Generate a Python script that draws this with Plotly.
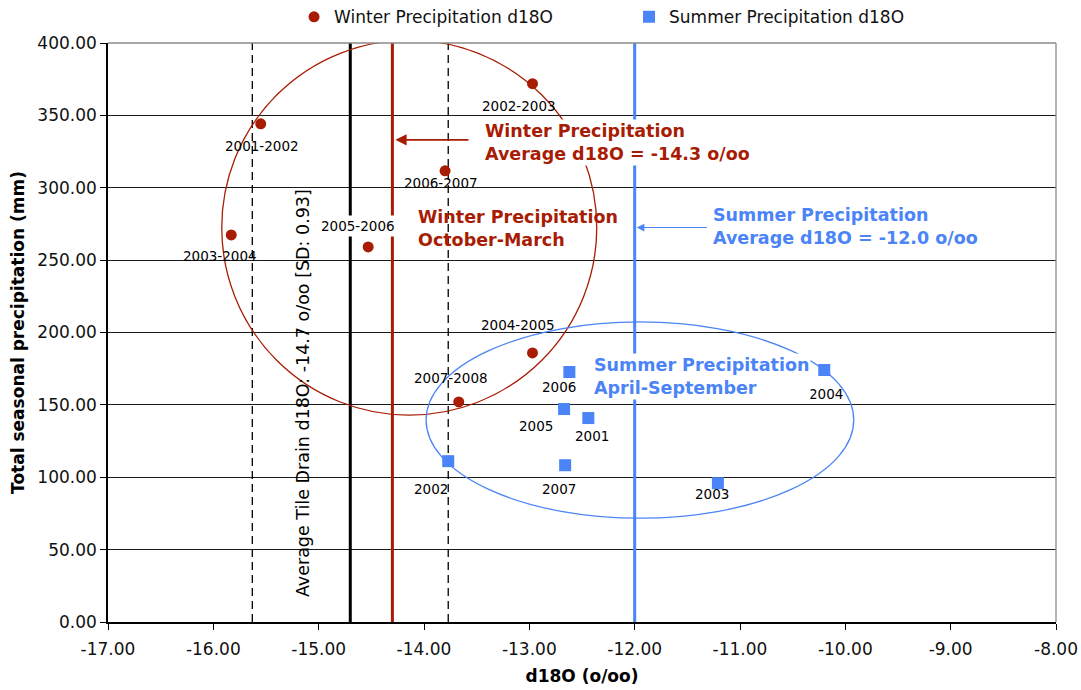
import plotly.graph_objects as go

# Seasonal precipitation: d18O (o/oo) against total precipitation (mm)
winter_years = ["2001-2002", "2002-2003", "2003-2004", "2004-2005",
                "2005-2006", "2006-2007", "2007-2008"]
winter_d18o = [-15.55, -12.97, -15.83, -12.97, -14.53, -13.80, -13.67]
winter_precip = [344.2, 371.9, 267.4, 185.9, 259.1, 311.7, 152.0]

summer_years = ["2001", "2002", "2003", "2004", "2005", "2006", "2007"]
summer_d18o = [-12.44, -13.77, -11.21, -10.20, -12.67, -12.62, -12.66]
summer_precip = [140.9, 111.1, 95.9, 174.1, 147.1, 172.7, 108.3]

# Reference averages
winter_avg = -14.3
summer_avg = -12.0
tile_drain_avg = -14.7
tile_drain_sd = 0.93

# Axis ticks
x_ticks = [-17, -16, -15, -14, -13, -12, -11, -10, -9, -8]
x_tick_labels = ["-17.00", "-16.00", "-15.00", "-14.00", "-13.00",
                 "-12.00", "-11.00", "-10.00", "-9.00", "-8.00"]
y_ticks = [0, 50, 100, 150, 200, 250, 300, 350, 400]
y_tick_labels = ["0.00", "50.00", "100.00", "150.00", "200.00",
                 "250.00", "300.00", "350.00", "400.00"]

# Outline ellipses around each season's cluster: (x0, y0, x1, y1)
winter_ellipse = (-15.92, 142.9, -12.36, 402.0)
summer_ellipse = (-13.98, 71.7, -9.92, 207.3)

# Label placement offsets (pixels) for the point labels
winter_label_shift = [(1, -22), (-13, -22), (-11, -21), (-14, 28),
                      (-10, 21), (-4, -12), (-8, 24)]
summer_label_shift = [(4, -18), (-17, -28), (-6, -11), (2, -24),
                      (-28, -17), (-10, -15), (-6, -24)]

RED = "#A81C04"
BLUE = "#4A84F7"
FONT = "DejaVu Sans"

fig = go.Figure()

fig.add_trace(go.Scatter(
    x=winter_d18o, y=winter_precip, mode="markers",
    name="Winter Precipitation d18O",
    marker=dict(symbol="circle", size=11, color=RED),
    cliponaxis=False,
))
fig.add_trace(go.Scatter(
    x=summer_d18o, y=summer_precip, mode="markers",
    name="Summer Precipitation d18O",
    marker=dict(symbol="square", size=12, color=BLUE),
    cliponaxis=False,
))

shapes = []
# Vertical reference lines
shapes.append(dict(type="line", xref="x", yref="y", x0=tile_drain_avg, x1=tile_drain_avg,
                   y0=0, y1=400, line=dict(color="black", width=3), layer="between"))
for v in (tile_drain_avg - tile_drain_sd, tile_drain_avg + tile_drain_sd):
    shapes.append(dict(type="line", xref="x", yref="y", x0=v, x1=v, y0=0, y1=400,
                       line=dict(color="black", width=1.3, dash="8px,5px"), layer="between"))
shapes.append(dict(type="line", xref="x", yref="y", x0=winter_avg, x1=winter_avg,
                   y0=0, y1=400, line=dict(color=RED, width=3), layer="between"))
shapes.append(dict(type="line", xref="x", yref="y", x0=summer_avg, x1=summer_avg,
                   y0=0, y1=400, line=dict(color=BLUE, width=3), layer="between"))
# Cluster ellipses
for (x0, y0, x1, y1), col in ((winter_ellipse, RED), (summer_ellipse, BLUE)):
    shapes.append(dict(type="circle", xref="x", yref="y", x0=x0, y0=y0, x1=x1, y1=y1,
                       line=dict(color=col, width=1.3), fillcolor="rgba(0,0,0,0)",
                       layer="between"))
# Grey frame on the top and right
shapes.append(dict(type="line", xref="paper", yref="paper", x0=0, x1=1, y0=1, y1=1,
                   line=dict(color="#8a8a8a", width=1.3), layer="above"))
shapes.append(dict(type="line", xref="paper", yref="paper", x0=1, x1=1, y0=0, y1=1,
                   line=dict(color="#8a8a8a", width=1.3), layer="above"))

annotations = []
for yr, xv, yv, (dx, dy) in zip(winter_years, winter_d18o, winter_precip, winter_label_shift):
    annotations.append(dict(
        x=xv, y=yv, xref="x", yref="y", text=yr, showarrow=False,
        xshift=dx, yshift=dy, font=dict(family=FONT, size=13.5, color="black"),
        bgcolor="white" if yr == "2005-2006" else "rgba(0,0,0,0)", borderpad=2,
    ))
for yr, xv, yv, (dx, dy) in zip(summer_years, summer_d18o, summer_precip, summer_label_shift):
    annotations.append(dict(
        x=xv, y=yv, xref="x", yref="y", text=yr, showarrow=False,
        xshift=dx, yshift=dy, font=dict(family=FONT, size=13.5, color="black"),
    ))

bold_red = dict(family=FONT, size=17.5, color=RED, weight="bold")
bold_blue = dict(family=FONT, size=17.5, color=BLUE, weight="bold")

# Winter average callout
annotations.append(dict(
    x=-13.44, y=331.1, xref="x", yref="y", xanchor="left", yanchor="middle",
    text="Winter Precipitation<br>Average d18O = %.1f o/oo" % winter_avg,
    align="left", showarrow=False, font=bold_red, bgcolor="white", borderpad=1,
))
annotations.append(dict(
    x=winter_avg, y=333.1, xref="x", yref="y", ax=-13.563, ay=333.1,
    axref="x", ayref="y", text="", showarrow=True, arrowhead=2, arrowsize=1.4,
    arrowwidth=1.6, arrowcolor=RED, standoff=3,
))
annotations.append(dict(
    x=-14.076, y=271.9, xref="x", yref="y", xanchor="left", yanchor="middle",
    text="Winter Precipitation<br>October-March", align="left",
    showarrow=False, font=bold_red,
))
# Summer average callout
annotations.append(dict(
    x=-11.275, y=273.0, xref="x", yref="y", xanchor="left", yanchor="middle",
    text="Summer Precipitation<br>Average d18O = %.1f o/oo" % summer_avg,
    align="left", showarrow=False, font=bold_blue,
))
annotations.append(dict(
    x=summer_avg, y=272.5, xref="x", yref="y", ax=-11.30, ay=272.5,
    axref="x", ayref="y", text="", showarrow=True, arrowhead=2, arrowsize=1.4,
    arrowwidth=1.1, arrowcolor=BLUE, standoff=2,
))
annotations.append(dict(
    x=-12.405, y=169.9, xref="x", yref="y", xanchor="left", yanchor="middle",
    text="Summer Precipitation<br>April-September", align="left",
    showarrow=False, font=bold_blue, bgcolor="white", borderpad=1,
))
# Tile drain label
annotations.append(dict(
    x=-15.149, y=158.1, xref="x", yref="y", textangle=-90,
    text="Average Tile Drain d18O: %.1f o/oo [SD: %.2f]" % (tile_drain_avg, tile_drain_sd),
    showarrow=False, font=dict(family=FONT, size=17.5, color="black"),
))

fig.update_layout(
    width=1081, height=690,
    margin=dict(l=108, r=25, t=43, b=68, autoexpand=False),
    paper_bgcolor="white", plot_bgcolor="white",
    font=dict(family=FONT, color="black"),
    showlegend=True,
    legend=dict(
        orientation="h", xref="container", x=0.272, xanchor="left",
        yref="container", y=0.975, yanchor="middle",
        font=dict(family=FONT, size=17, color="#111"),
        entrywidth=290, entrywidthmode="pixels",
        bgcolor="rgba(0,0,0,0)",
    ),
    shapes=shapes,
    annotations=annotations,
    xaxis=dict(
        range=[-17, -8], tickvals=x_ticks, ticktext=x_tick_labels,
        showgrid=False, zeroline=False, automargin=False,
        showline=True, linecolor="black", linewidth=1.5,
        ticks="outside", ticklen=6, tickcolor="black", tickwidth=1.3,
        ticklabelstandoff=5,
        tickfont=dict(family=FONT, size=17, color="#111"),
        title=dict(text="d18O (o/oo)", standoff=12,
                   font=dict(family=FONT, size=17, color="black", weight="bold")),
    ),
    yaxis=dict(
        range=[0, 400], tickvals=y_ticks, ticktext=y_tick_labels,
        showgrid=True, gridcolor="#1a1a1a", gridwidth=1.3, zeroline=False,
        automargin=False,
        showline=True, linecolor="black", linewidth=1.5,
        ticks="outside", ticklen=6, tickcolor="black", tickwidth=1.3,
        tickfont=dict(family=FONT, size=17, color="#111"),
        title=dict(text="Total seasonal precipitation (mm)", standoff=8,
                   font=dict(family=FONT, size=17, color="black", weight="bold")),
    ),
)

fig.write_html("out.html")
